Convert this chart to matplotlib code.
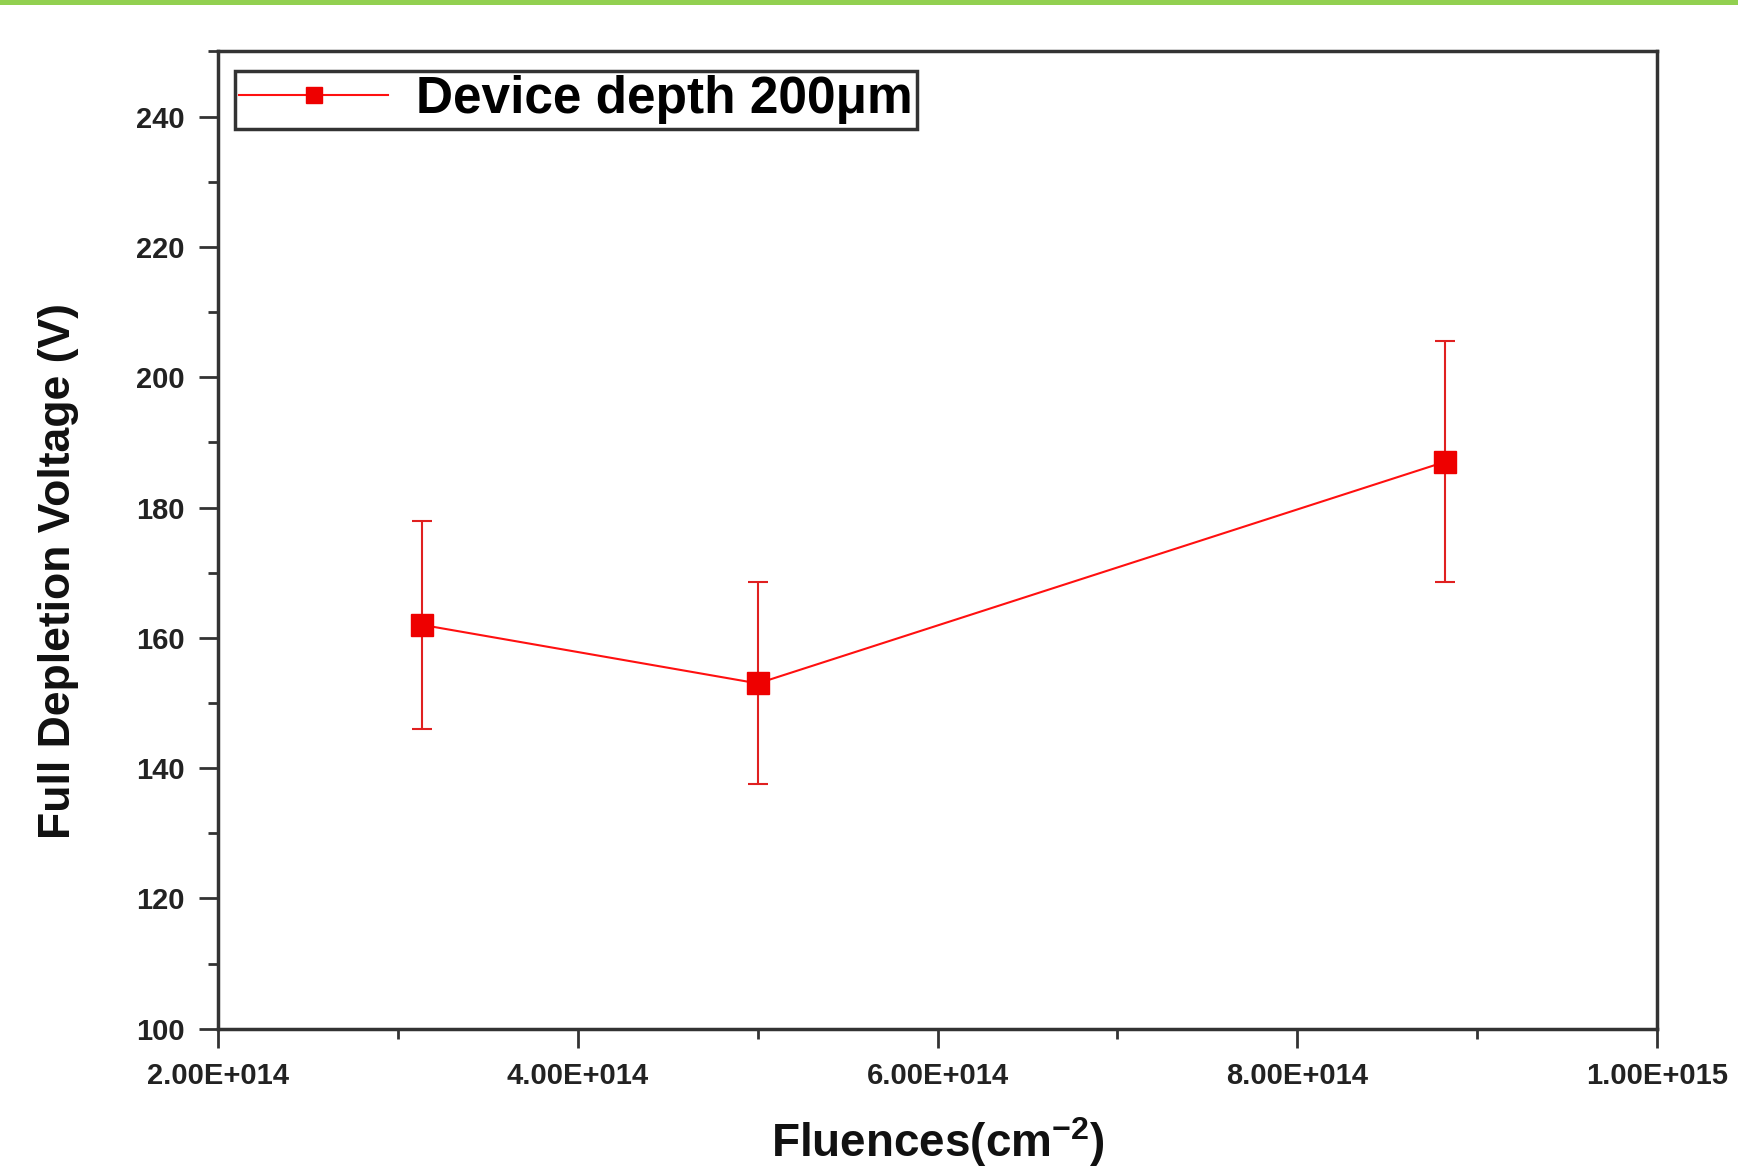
import matplotlib
matplotlib.use("Agg")
import matplotlib.pyplot as plt
from matplotlib.ticker import MultipleLocator, FuncFormatter

# data
fluence = [3.13e14, 5.0e14, 8.82e14]
voltage = [162, 153, 187]
voltage_err = [16, 15.5, 18.5]
series_label = "Device depth 200\u03bcm"
x_label = "Fluences(cm$^{\\mathregular{-2}}$)"
y_label = "Full Depletion Voltage (V)"

plt.rcParams['font.family'] = ['Liberation Sans', 'DejaVu Sans']
plt.rcParams['mathtext.fontset'] = 'custom'
plt.rcParams['mathtext.rm'] = 'Liberation Sans:bold'

fig = plt.figure(figsize=(17.38, 11.69), dpi=100)
ax = fig.add_axes([0.1256, 0.120, 0.8278, 0.836])

eb = ax.errorbar(fluence, voltage, yerr=voltage_err, color='#ff1010', lw=1.5,
                 marker='s', markersize=16, mfc='#ee0000', mec='#ee0000',
                 ecolor='#e02020', elinewidth=1.5, capsize=7, capthick=1.5,
                 label=series_label)

ax.set_xlim(2e14, 1e15)
ax.set_ylim(100, 250)
ax.xaxis.set_major_locator(MultipleLocator(2e14))
ax.xaxis.set_minor_locator(MultipleLocator(1e14))
ax.yaxis.set_major_locator(MultipleLocator(20))
ax.yaxis.set_minor_locator(MultipleLocator(10))


def sci_fmt(v, pos):
    mant, ex = ("%.2E" % v).split("E")
    return "%sE+%03d" % (mant, int(ex))


ax.xaxis.set_major_formatter(FuncFormatter(sci_fmt))
ax.yaxis.set_major_formatter(FuncFormatter(lambda v, p: "%d" % v))

ax.tick_params(which='both', direction='out', top=False, right=False,
               color='#333333', width=2)
ax.tick_params(which='major', length=14, labelsize=21, pad=10)
ax.tick_params(which='minor', length=7)
for lab in ax.get_xticklabels() + ax.get_yticklabels():
    lab.set_fontweight('bold')
    lab.set_color('#222222')

for sp in ax.spines.values():
    sp.set_linewidth(2.5)
    sp.set_color('#333333')

ax.set_xlabel(x_label, fontsize=33, fontweight='bold', color='#111111')
ax.xaxis.set_label_coords(0.5, -0.088)
ax.set_ylabel(y_label, fontsize=32, fontweight='bold', color='#111111')
ax.yaxis.set_label_coords(-0.097, 0.468)

# legend shows only line + marker (no error bar glyph)
leg = ax.legend([eb[0]], [series_label], loc='upper left',
                bbox_to_anchor=(0.0116, 0.9796), borderaxespad=0,
                fancybox=False, framealpha=1, edgecolor='#333333',
                borderpad=0.08, handlelength=2.9, handletextpad=0.55,
                markerscale=0.7, prop={'weight': 'bold', 'size': 37})
leg.get_frame().set_linewidth(2.5)

# green band along the top edge
fig.add_artist(plt.Rectangle((0, 0.9955), 1, 0.0045, transform=fig.transFigure,
                             color='#92d050', lw=0))

fig.savefig("out.png", dpi=100)
